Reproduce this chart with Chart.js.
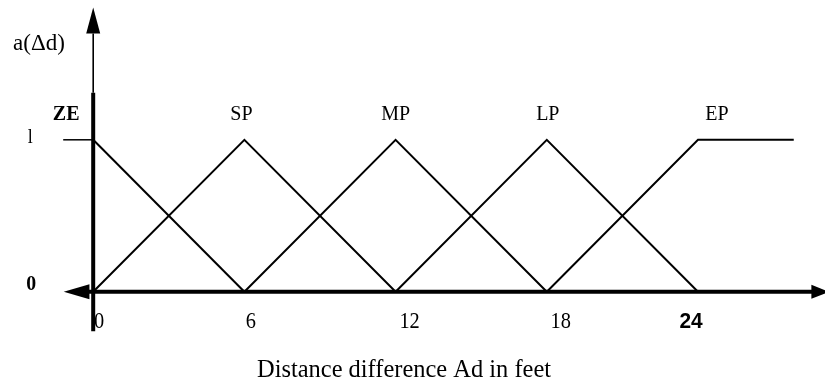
<!DOCTYPE html>
<html>
<head>
<meta charset="utf-8">
<script src="https://cdn.jsdelivr.net/npm/chart.js@4/dist/chart.umd.min.js"></script>
<style>
html,body{margin:0;padding:0;background:#fff;}
#wrap{width:825px;height:385px;position:relative;}
</style>
</head>
<body>
<div id="wrap"><canvas id="c"></canvas></div>
<script>
// ---- data ----
const setNames = ['ZE', 'SP', 'MP', 'LP', 'EP'];
const setPeaks = [0, 6, 12, 18, 24];
const zeX = [0, 6],          zeY = [1, 0];
const spX = [0, 6, 12],      spY = [0, 1, 0];
const mpX = [6, 12, 18],     mpY = [0, 1, 0];
const lpX = [12, 18, 24],    lpY = [0, 1, 0];
const epX = [18, 24, 27.8],  epY = [0, 1, 1];
const xTickValues = [0, 6, 12, 18, 24];
const xTickLabels = ['0', '6', '12', '18', '24'];
const yTickValues = [0, 1];
const yTickLabels = ['0', 'l'];
const yAxisTitle = 'a(\u0394d)';
const xAxisTitle = 'Distance difference Ad in feet';

const xs = [zeX, spX, mpX, lpX, epX];
const ys = [zeY, spY, mpY, lpY, epY];
const toPts = (X, Y) => X.map((v, i) => ({x: v, y: Y[i]}));

const datasets = xs.map((X, i) => ({
  label: setNames[i],
  data: toPts(X, ys[i]),
  showLine: true,
  borderColor: '#000',
  borderWidth: 2,
  pointRadius: 0,
  fill: false,
  tension: 0
}));

function txt(ctx, s, x, y, font, squeeze, align) {
  ctx.save();
  ctx.font = font;
  ctx.fillStyle = '#000';
  ctx.textBaseline = 'middle';
  ctx.textAlign = align || 'center';
  ctx.translate(x, y);
  ctx.scale(squeeze || 1, 1);
  ctx.fillText(s, 0, 0);
  ctx.restore();
}

const decor = {
  id: 'decor',
  afterDatasetsDraw(chart) {
    const ctx = chart.ctx;
    const sx = chart.scales.x, sy = chart.scales.y;
    const px = v => sx.getPixelForValue(v);
    const py = v => sy.getPixelForValue(v);
    const x0 = px(0), y0 = py(0);
    ctx.save();
    ctx.strokeStyle = '#000';
    ctx.fillStyle = '#000';
    ctx.lineCap = 'butt';
    // y axis: thick lower part, thin upper part, arrowhead
    ctx.lineWidth = 4;
    ctx.beginPath(); ctx.moveTo(x0, py(-0.26)); ctx.lineTo(x0, py(1.31)); ctx.stroke();
    ctx.lineWidth = 1.6;
    ctx.beginPath(); ctx.moveTo(x0, py(1.31)); ctx.lineTo(x0, py(1.70)); ctx.stroke();
    ctx.beginPath();
    ctx.moveTo(x0, py(1.87)); ctx.lineTo(x0 - 7, py(1.70)); ctx.lineTo(x0 + 7, py(1.70)); ctx.closePath(); ctx.fill();
    // x axis
    ctx.lineWidth = 4;
    ctx.beginPath(); ctx.moveTo(px(-0.2), y0); ctx.lineTo(px(28.6), y0); ctx.stroke();
    // left arrowhead
    ctx.beginPath();
    ctx.moveTo(px(-1.17), y0); ctx.lineTo(px(-0.15), y0 - 7.5); ctx.lineTo(px(-0.15), y0 + 7.5); ctx.closePath(); ctx.fill();
    // right arrowhead
    ctx.beginPath();
    ctx.moveTo(px(29.2), y0); ctx.lineTo(px(28.5), y0 - 7); ctx.lineTo(px(28.5), y0 + 7); ctx.closePath(); ctx.fill();
    // small tick at 1
    ctx.lineWidth = 1.5;
    ctx.beginPath(); ctx.moveTo(x0 - 30, py(1)); ctx.lineTo(x0, py(1)); ctx.stroke();
    ctx.restore();

    // set names
    const nameDx = [-27, -3, 0, 1, 19];
    const nameFont = ['bold 20px "Liberation Serif"', '20px "Liberation Serif"', '20px "Liberation Serif"', '20px "Liberation Serif"', '20px "Liberation Serif"'];
    setNames.forEach((n, i) => txt(ctx, n, px(setPeaks[i]) + nameDx[i], py(1) - 25, nameFont[i], 1));

    // x tick labels
    const tickDx = [6, 6.5, 14, 14, -7];
    xTickLabels.forEach((t, i) => {
      const f = i === 4 ? 'bold 22px "Liberation Sans"' : '24px "Liberation Serif"';
      txt(ctx, t, px(xTickValues[i]) + tickDx[i], y0 + 30, f, i === 4 ? 0.95 : 0.85);
    });
    // y tick labels
    txt(ctx, yTickLabels[0], x0 - 62, py(yTickValues[0]) - 7, 'bold 22px "Liberation Serif"', 0.9);
    txt(ctx, yTickLabels[1], x0 - 63, py(yTickValues[1]) - 2, '20px "Liberation Serif"', 0.9);
    // axis titles
    txt(ctx, yAxisTitle, 39, 44, '23px "Liberation Serif"', 1.0);
    txt(ctx, xAxisTitle, 404, 370, '26px "Liberation Serif"', 0.94);
  }
};

new Chart(document.getElementById('c'), {
  type: 'scatter',
  data: { datasets },
  options: {
    responsive: true,
    maintainAspectRatio: false,
    devicePixelRatio: 1,
    animation: false,
    layout: { padding: { left: 5, right: 1, top: 3, bottom: 2 } },
    plugins: { legend: { display: false }, tooltip: { enabled: false } },
    scales: {
      x: { type: 'linear', min: -3.5, max: 29, display: false },
      y: { type: 'linear', min: -0.6, max: 1.9, display: false }
    }
  },
  plugins: [decor]
});
</script>
</body>
</html>
